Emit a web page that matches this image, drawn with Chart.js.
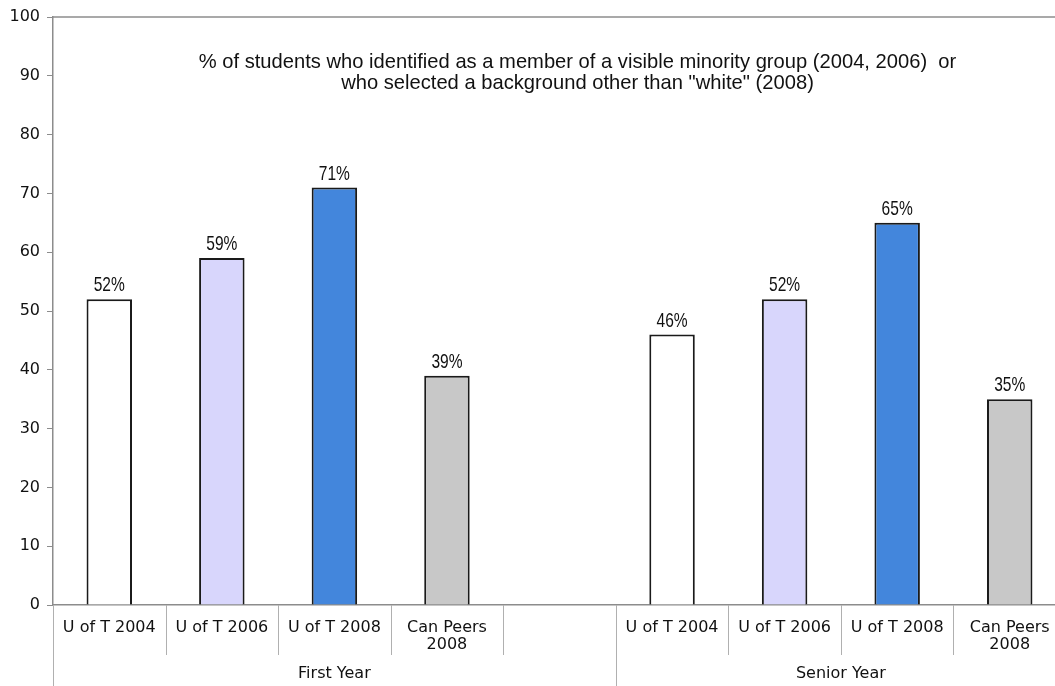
<!DOCTYPE html>
<html><head><meta charset="utf-8">
<script src="https://cdn.jsdelivr.net/npm/chart.js@4/dist/chart.umd.min.js"></script>
<style>
html,body{margin:0;padding:0;overflow:hidden;background:#fff;width:1055px;height:686px}
#wrap{position:absolute;left:0;top:0;width:1066px;height:686px}
</style>
</head><body><div id="wrap"><canvas id="c" width="1066" height="686"></canvas></div>
<script>
const categories = ['U of T 2004','U of T 2006','U of T 2008',['Can Peers','2008'],'',
                    'U of T 2004','U of T 2006','U of T 2008',['Can Peers','2008']];
const values = [52,59,71,39,null,46,52,65,35];
const valueLabels = ['52%','59%','71%','39%','','46%','52%','65%','35%'];
const barColors = ['#ffffff','#d8d6fc','#4386dc','#c8c8c8','#ffffff','#ffffff','#d8d6fc','#4386dc','#c8c8c8'];
const groupNames = ['First Year','Senior Year'];
const groupFirst = [0,5];
const groupLast = [4,8];
const yMin = 0, yMax = 100, yStep = 10;
const titleLines = ['% of students who identified as a member of a visible minority group (2004, 2006)  or',
                    'who selected a background other than "white" (2008)'];

const FONT = '"DejaVu Sans", sans-serif';
const NARROW = '"Liberation Sans", Arial, sans-serif';
const AXIS = '#8c8c8c';

function narrowText(ctx, text, x, y, squeeze){
  ctx.save();
  ctx.translate(x, y);
  ctx.scale(squeeze, 1);
  ctx.fillText(text, 0, 0);
  ctx.restore();
}

const deco = {
  id:'deco',
  afterDatasetsDraw(chart){
    const ctx = chart.ctx;
    const meta = chart.getDatasetMeta(0);
    ctx.save();
    ctx.fillStyle = '#111';
    ctx.font = '21px ' + NARROW;
    ctx.textAlign = 'center';
    ctx.textBaseline = 'alphabetic';
    meta.data.forEach((bar,i)=>{
      if (values[i] == null) return;
      narrowText(ctx, valueLabels[i], bar.x, bar.y - 8, 0.74);
    });
    ctx.restore();
  },
  afterDraw(chart){
    const ctx = chart.ctx, a = chart.chartArea, xs = chart.scales.x;
    const px = i => xs.getPixelForValue(i);
    const half = (px(1) - px(0)) / 2;
    ctx.save();
    // top border
    ctx.strokeStyle = AXIS; ctx.lineWidth = 1.5;
    ctx.beginPath(); ctx.moveTo(a.left, a.top); ctx.lineTo(a.right, a.top); ctx.stroke();
    // separators
    ctx.strokeStyle = '#b0b0b0'; ctx.lineWidth = 1;
    ctx.beginPath(); ctx.moveTo(a.left + 0.5, a.bottom); ctx.lineTo(a.left + 0.5, 686); ctx.stroke();
    for (let i = 0; i < categories.length - 1; i++){
      const x = Math.round((px(i) + px(i+1)) / 2) + 0.5;
      const isGroup = groupFirst.includes(i+1);
      ctx.beginPath(); ctx.moveTo(x, a.bottom); ctx.lineTo(x, isGroup ? 686 : a.bottom + 50); ctx.stroke();
    }
    // group labels
    ctx.fillStyle = '#111'; ctx.font = '16px ' + FONT; ctx.textAlign = 'center'; ctx.textBaseline = 'middle';
    groupNames.forEach((g,k)=>{
      const l = px(groupFirst[k]) - half, r = px(groupLast[k]) + half;
      ctx.fillText(g, (l + r) / 2, a.bottom + 69);
    });
    // title
    ctx.font = '21px ' + NARROW;
    const cx = (a.left + a.right) / 2 + 18;
    titleLines.forEach((t,k)=> narrowText(ctx, t, cx, a.top + 45 + k * 21, 0.96));
    ctx.restore();
  }
};

new Chart(document.getElementById('c'), {
  type:'bar',
  data:{ labels: categories, datasets:[{
    data: values, backgroundColor: barColors, borderColor:'#1a1a1a', borderWidth:2,
    categoryPercentage:1, barPercentage:0.404
  }]},
  options:{
    responsive:false, animation:false, devicePixelRatio:1,
    layout:{ padding:{ top:17, left:0, right:0, bottom:0 } },
    plugins:{ legend:{display:false}, tooltip:{enabled:false}, title:{display:false} },
    scales:{
      x:{
        grid:{ display:false },
        border:{ display:true, color:AXIS, width:1.5 },
        ticks:{ color:'#111', font:{ family:FONT, size:16, lineHeight:1.08 }, padding:6, maxRotation:0, minRotation:0, autoSkip:false },
        afterFit(s){ s.height = 81; }
      },
      y:{
        min:yMin, max:yMax,
        grid:{ drawOnChartArea:false, drawTicks:true, tickLength:6, color:AXIS },
        border:{ display:true, color:AXIS, width:1.5 },
        ticks:{ stepSize:yStep, color:'#111', font:{ family:FONT, size:16 }, padding:7 },
        afterFit(s){ s.width = 53; }
      }
    }
  },
  plugins:[deco]
});
</script>
</body></html>
